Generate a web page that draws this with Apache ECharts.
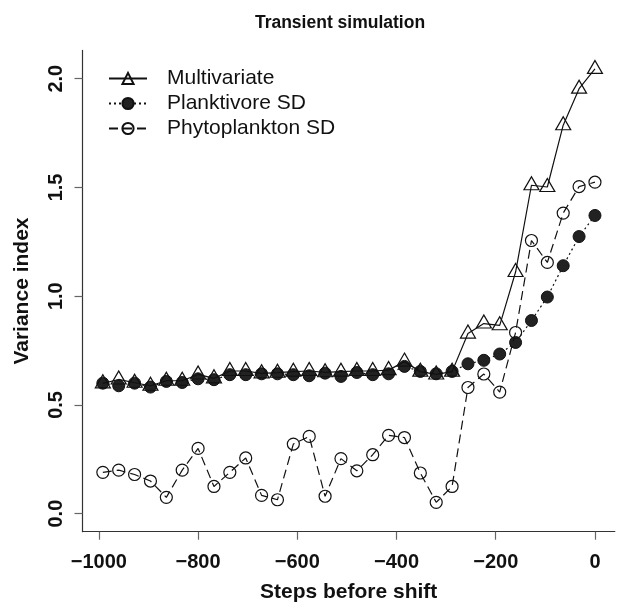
<!DOCTYPE html>
<html>
<head>
<meta charset="utf-8">
<script src="https://cdn.jsdelivr.net/npm/echarts@6/dist/echarts.min.js"></script>
<style>
html,body{margin:0;padding:0;background:#fff;}
#chart{width:617px;height:608px;}
</style>
</head>
<body>
<div id="chart"></div>
<script>
var steps = [-992,-960,-928,-896,-864,-832,-800,-768,-736,-704,-672,-640,-608,-576,-544,-512,-480,-448,-416,-384,-352,-320,-288,-256,-224,-192,-160,-128,-96,-64,-32,0];
var multivariate = [0.599,0.617,0.602,0.588,0.611,0.611,0.640,0.622,0.656,0.656,0.645,0.648,0.653,0.656,0.650,0.653,0.656,0.656,0.660,0.699,0.653,0.640,0.653,0.828,0.874,0.866,1.111,1.510,1.502,1.786,1.954,2.045];
var planktivoreSD = [0.600,0.588,0.600,0.582,0.608,0.603,0.620,0.616,0.639,0.639,0.643,0.643,0.639,0.634,0.646,0.631,0.649,0.639,0.643,0.677,0.654,0.643,0.654,0.689,0.705,0.734,0.787,0.888,0.996,1.140,1.274,1.371];
var phytoplanktonSD = [0.190,0.200,0.180,0.150,0.075,0.200,0.300,0.125,0.190,0.256,0.084,0.064,0.320,0.355,0.080,0.253,0.197,0.271,0.360,0.350,0.187,0.052,0.125,0.580,0.642,0.559,0.833,1.256,1.155,1.382,1.504,1.524];
var xTicks = [-1000,-800,-600,-400,-200,0];
var yTicks = [0,0.5,1,1.5,2];
var seriesNames = ['Multivariate','Planktivore SD','Phytoplankton SD'];

function pairs(xs, ys){ return xs.map(function(x,i){ return [x, ys[i]]; }); }
var FONT = '"Liberation Sans", Arial, Helvetica, sans-serif';
var chart = echarts.init(document.getElementById('chart'), null, {renderer:'canvas'});
chart.setOption({
  animation:false,
  backgroundColor:'#fff',
  title:{
    text:'Transient simulation', left:335, top:9, textAlign:'center',
    textStyle:{fontFamily:FONT, fontWeight:'bold', fontSize:17.5, color:'#111'}
  },
  legend:{
    orient:'vertical', left:108, top:68, padding:0, itemWidth:38, itemHeight:14, itemGap:4,
    data:seriesNames,
    textStyle:{fontFamily:FONT, fontSize:21, color:'#111', padding:[0,0,0,15]}
  },
  grid:{left:82.5, top:50.4, right:2.2, bottom:76.3, containLabel:false},
  xAxis:{
    type:'value', min:-1033, max:40,
    name:'Steps before shift', nameLocation:'middle', nameGap:50,
    nameTextStyle:{fontFamily:FONT, fontWeight:'bold', fontSize:21, color:'#111'},
    axisLine:{show:true, onZero:false, lineStyle:{color:'#333', width:1.2}},
    axisTick:{show:true, customValues:xTicks, length:8, inside:false, lineStyle:{color:'#666', width:1.2}},
    axisLabel:{customValues:xTicks, margin:21, fontFamily:FONT, fontWeight:'bold', fontSize:20, color:'#111',
      formatter:function(v){ return v < 0 ? '\u2212' + Math.abs(v) : String(v); }},
    splitLine:{show:false}
  },
  yAxis:{
    type:'value', min:-0.083, max:2.13,
    name:'Variance index', nameLocation:'middle', nameGap:50, nameRotate:90,
    nameTextStyle:{fontFamily:FONT, fontWeight:'bold', fontSize:21, color:'#111'},
    axisLine:{show:true, onZero:false, lineStyle:{color:'#333', width:1.2}},
    axisTick:{show:true, customValues:yTicks, length:8, lineStyle:{color:'#666', width:1.2}},
    axisLabel:{customValues:yTicks, rotate:90, margin:16, fontFamily:FONT, fontWeight:'bold', fontSize:20, color:'#111',
      formatter:function(v){ return v.toFixed(1); }},
    splitLine:{show:false}
  },
  series:[
    {
      name:seriesNames[0], type:'line', data:pairs(steps, multivariate),
      symbol:'triangle', symbolSize:[15,13], symbolOffset:[0,-2], showAllSymbol:true,
      lineStyle:{color:'#111', width:1.2, type:'solid'},
      itemStyle:{color:'rgba(0,0,0,0)', borderColor:'#111', borderWidth:1.2},
      z:3
    },
    {
      name:seriesNames[1], type:'line', data:pairs(steps, planktivoreSD),
      symbol:'circle', symbolSize:12, showAllSymbol:true,
      lineStyle:{color:'#111', width:1.2, type:[2,3]},
      itemStyle:{color:'#222', borderColor:'#111', borderWidth:1},
      z:2
    },
    {
      name:seriesNames[2], type:'line', data:pairs(steps, phytoplanktonSD),
      symbol:'circle', symbolSize:12, showAllSymbol:true,
      lineStyle:{color:'#111', width:1.2, type:[9,5]},
      itemStyle:{color:'rgba(0,0,0,0)', borderColor:'#111', borderWidth:1.2},
      z:4
    }
  ]
});
</script>
</body>
</html>
